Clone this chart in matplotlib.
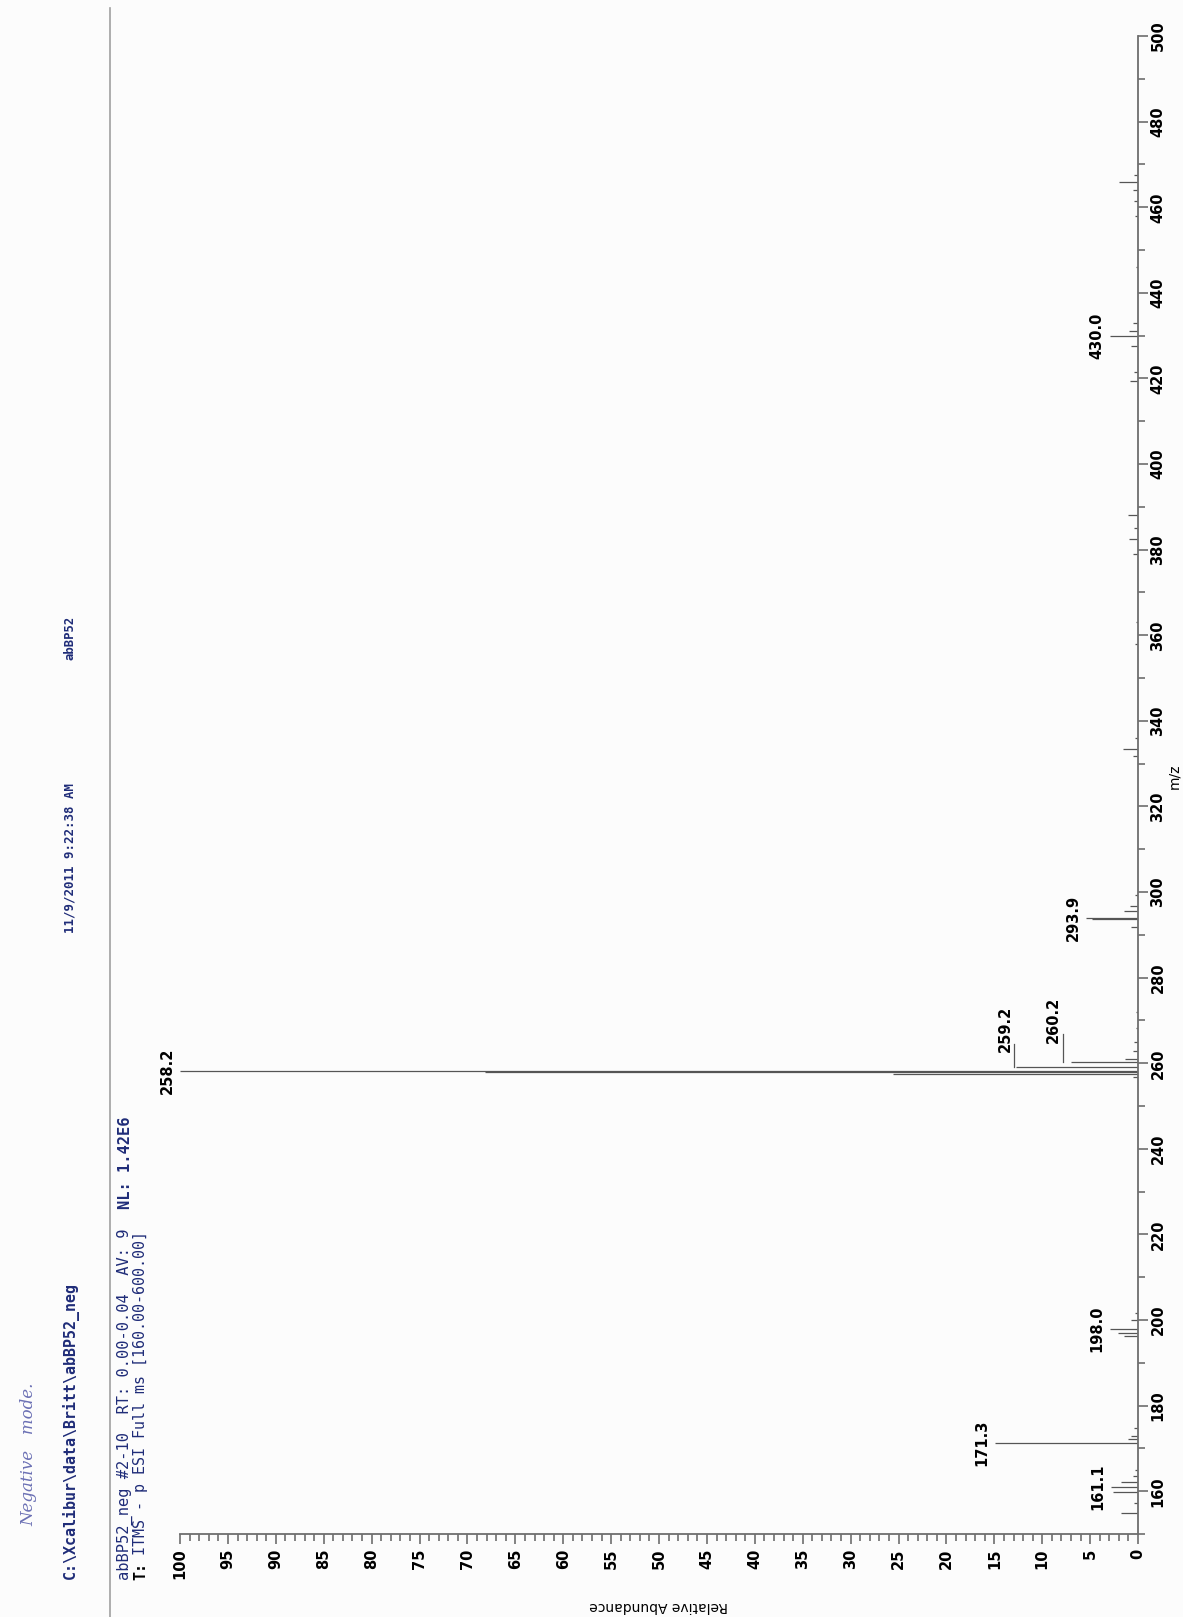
import matplotlib
matplotlib.use("Agg")
import matplotlib.pyplot as plt
from matplotlib.ticker import MultipleLocator

# spectrum centroids: m/z and relative abundance (%)
mz = [154.9, 157.2, 159.9, 161.1, 162.2, 163.6, 165.0,
      171.3, 172.3, 173.0, 174.8,
      196.2, 197.0, 198.0, 199.9, 201.6,
      256.8, 257.6, 258.0, 258.2, 259.2, 260.2, 261.1, 262.8, 265.0, 268.3, 272.0,
      291.9, 293.7, 293.9, 295.5, 296.8, 299.2,
      331.8, 333.4, 336.0, 358.0, 363.0,
      379.0, 382.5, 385.0, 388.0,
      419.5, 421.5, 427.6, 430.0, 431.2, 433.0,
      446.0, 458.0, 461.5, 464.0, 465.9, 467.5]
abundance = [1.8, 0.4, 2.6, 2.8, 1.8, 0.5, 0.3,
             14.9, 1.1, 0.7, 0.4,
             1.5, 2.1, 2.9, 0.7, 0.3,
             0.5, 25.6, 68.2, 100.0, 12.7, 7.0, 1.4, 0.5, 0.4, 0.2, 0.2,
             0.7, 4.8, 5.4, 1.5, 0.8, 0.3,
             0.5, 1.6, 0.3, 0.3, 0.2,
             0.5, 0.9, 0.4, 1.0,
             0.8, 0.4, 0.7, 2.9, 0.9, 0.5,
             0.2, 0.3, 0.4, 0.5, 2.0, 0.4]

labelled = [161.1, 171.3, 198.0, 258.2, 293.9, 430.0]
# labels drawn above their peak with a short leader: (m/z, abundance shift, m/z shift)
underlined = [(259.2, 1.2, 3.4), (260.2, 1.85, 4.6)]

navy = "#1f2c78"
grey = "#555555"
axcol = "#6e6e6e"
mono = "DejaVu Sans Mono"

fig = plt.figure(figsize=(11.83, 16.17), dpi=100, facecolor="#fcfcfc")
# spectrum is drawn turned on its side: m/z runs up, abundance runs right-to-left
ax = fig.add_axes([0.1522, 0.0513, 0.8098, 0.9264], facecolor="#fcfcfc")

ax.hlines(mz, 0, abundance, color=grey, lw=0.9)

ax.set_xlim(100, 0)
ax.set_ylim(150, 500)

for s in ["top", "left"]:
    ax.spines[s].set_visible(False)
for s in ["bottom", "right"]:
    ax.spines[s].set_color(axcol)
    ax.spines[s].set_linewidth(1.3)

ax.yaxis.tick_right()
ax.xaxis.set_major_locator(MultipleLocator(5))
ax.xaxis.set_minor_locator(MultipleLocator(1))
ax.yaxis.set_major_locator(MultipleLocator(20))
ax.yaxis.set_minor_locator(MultipleLocator(10))
ax.tick_params(which="both", direction="out", color=axcol, width=1.2,
               labelsize=10.5, labelcolor="black")
ax.tick_params(which="major", length=7)
ax.tick_params(which="minor", length=5)
ax.tick_params(axis="y", pad=2)
for t in ax.get_xticklabels() + ax.get_yticklabels():
    t.set_rotation(90)
    t.set_fontweight("bold")
for t in ax.get_yticklabels():
    t.set_va("center")

ax.set_xlabel("Relative Abundance", rotation=180, fontsize=10, labelpad=14)
fig.text(1174 / 1183, 1 - 776 / 1617, "m/z", rotation=90, ha="center", va="center",
         fontsize=10)

for m in labelled:
    a = abundance[mz.index(m)]
    ax.annotate(f"{m:.1f}", xy=(a, m), xytext=(-4, 0), textcoords="offset points",
                rotation=90, ha="right", va="center", fontsize=10.5, weight="bold",
                color="black", annotation_clip=False)
for m, dx, dy in underlined:
    a = abundance[mz.index(m)]
    ax.text(a + dx, m + dy, f"{m:.1f}", rotation=90, ha="center", va="bottom",
            fontsize=10.5, weight="bold", color="black")
    ax.plot([a + dx - 1.0, a + dx - 1.0], [m, m + dy + 2], color=grey, lw=0.9)

# header block, written sideways like the rest of the page
fig.text(29 / 1183, 1 - 1526 / 1617, "Negative   mode.", rotation=90, ha="center",
         va="bottom", fontsize=12, color="#6b70b4", style="italic", family="DejaVu Serif")
fig.text(70 / 1183, 1 - 1579 / 1617, "C:\\Xcalibur\\data\\Britt\\abBP52_neg", rotation=90,
         ha="center", va="bottom", fontsize=10.8, color=navy, weight="bold", family=mono)
fig.text(70 / 1183, 1 - 933 / 1617, "11/9/2011 9:22:38 AM", rotation=90,
         ha="center", va="bottom", fontsize=8.9, color=navy, weight="bold", family=mono)
fig.text(70 / 1183, 1 - 660 / 1617, "abBP52", rotation=90,
         ha="center", va="bottom", fontsize=8.8, color=navy, weight="bold", family=mono)
fig.add_artist(plt.Line2D([110 / 1183, 110 / 1183], [0, 0.995],
                          transform=fig.transFigure, color="#a0a0a0", lw=1.2))

# scan line: monospace, so the bold tail can be placed by character count
scan_head = "abBP52_neg #2-10  RT: 0.00-0.04  AV: 9  "
scan_tail = "NL: 1.42E6"
size2 = 11.1
adv = size2 * 100 / 72 * 0.602
fig.text(125 / 1183, 1 - 1580 / 1617, scan_head, rotation=90, ha="center", va="bottom",
         fontsize=size2, color=navy, family=mono)
fig.text(125 / 1183, 1 - (1580 - len(scan_head) * adv) / 1617, scan_tail, rotation=90,
         ha="center", va="bottom", fontsize=size2, color=navy, weight="bold", family=mono)
fig.text(141 / 1183, 1 - 1580 / 1617, "T:", rotation=90, ha="center", va="bottom",
         fontsize=10.8, color="black", weight="bold", family=mono)
fig.text(141 / 1183, 1 - 1555 / 1617, "ITMS - p ESI Full ms [160.00-600.00]",
         rotation=90, ha="center", va="bottom", fontsize=10.8, color=navy, family=mono)

fig.savefig("out.png", dpi=100, facecolor=fig.get_facecolor())
